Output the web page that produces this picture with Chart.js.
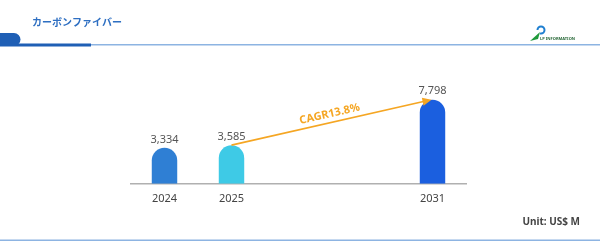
<!DOCTYPE html>
<html>
<head>
<meta charset="utf-8">
<script src="https://cdn.jsdelivr.net/npm/chart.js@4"></script>
<style>
  html, body { margin: 0; padding: 0; background: #fff; }
  #wrap { position: relative; width: 600px; height: 248px; }
</style>
</head>
<body>
<div id="wrap"><canvas id="myChart" width="600" height="248"></canvas></div>
<script>
// data
const years = ["2024", "2025", "", "", "2031"];
const sales = [3334, 3585, null, null, 7798];
const barColors = ["#2f7fd4", "#3ecae6", "#3ecae6", "#3ecae6", "#1b5fdf"];
const cagrText = "CAGR13.8%";
const titleText = "カーボンファイバー";
const unitText = "Unit: US$ M";

const fontJP = "'Noto Sans CJK JP', 'Noto Sans', sans-serif";
const fontUI = "'Noto Sans', 'Open Sans', sans-serif";

// header, footer, logo and unit text
const pageDeco = {
  id: "pageDeco",
  beforeDraw(chart) {
    const c = chart.ctx;
    c.save();
    c.fillStyle = "#fff";
    c.fillRect(0, 0, chart.width, chart.height);

    // title
    c.fillStyle = "#2e6fc2";
    c.font = "bold 10px " + fontJP;
    c.textBaseline = "middle";
    c.fillText(titleText, 32, 22);

    // header lines
    c.fillStyle = "#8db4e2";
    c.fillRect(0, 44, 600, 1.5);
    c.fillStyle = "#1f5fb5";
    c.fillRect(0, 43.5, 91, 3);
    c.beginPath();
    c.moveTo(0, 33);
    c.lineTo(14, 33);
    c.arc(14, 39.5, 6.5, -Math.PI / 2, Math.PI / 2);
    c.lineTo(0, 46);
    c.closePath();
    c.fill();

    // footer line
    c.fillStyle = "#8db4e2";
    c.fillRect(0, 239.5, 600, 1.5);

    // logo
    c.strokeStyle = "#1f7fd0";
    c.lineWidth = 2;
    c.beginPath();
    c.arc(541, 30, 3.5, Math.PI, Math.PI * 2.6);
    c.stroke();
    c.fillStyle = "#1f9a3a";
    c.beginPath();
    c.moveTo(530, 41);
    c.lineTo(540, 32);
    c.lineTo(538, 39);
    c.closePath();
    c.fill();
    c.fillStyle = "#2a6a3a";
    c.font = "bold 4px " + fontUI;
    c.fillText("LP INFORMATION", 540, 38.5);

    // unit
    c.fillStyle = "#444";
    c.font = "bold 10px " + fontUI;
    c.textAlign = "right";
    c.fillText(unitText, 580, 222);
    c.restore();
  }
};

// value labels above bars and the CAGR arrow
const barExtras = {
  id: "barExtras",
  afterDatasetsDraw(chart) {
    const c = chart.ctx;
    const meta = chart.getDatasetMeta(0);
    c.save();
    c.fillStyle = "#555";
    c.font = "11px " + fontUI;
    c.textAlign = "center";
    c.textBaseline = "bottom";
    meta.data.forEach((bar, i) => {
      if (sales[i] == null) return;
      c.fillText(sales[i].toLocaleString("en-US"), bar.x, bar.y - 3);
    });

    const a = meta.data[1], b = meta.data[4];
    const x1 = a.x, y1 = a.y, x2 = b.x - 1, y2 = b.y;
    const ang = Math.atan2(y2 - y1, x2 - x1);
    c.strokeStyle = "#f5a623";
    c.fillStyle = "#f5a623";
    c.lineWidth = 1.6;
    c.beginPath();
    c.moveTo(x1, y1);
    c.lineTo(x2 - 6 * Math.cos(ang), y2 - 6 * Math.sin(ang));
    c.stroke();
    c.beginPath();
    c.moveTo(x2, y2);
    c.lineTo(x2 - 9 * Math.cos(ang) + 4 * Math.sin(ang), y2 - 9 * Math.sin(ang) - 4 * Math.cos(ang));
    c.lineTo(x2 - 9 * Math.cos(ang) - 4 * Math.sin(ang), y2 - 9 * Math.sin(ang) + 4 * Math.cos(ang));
    c.closePath();
    c.fill();

    c.translate((x1 + x2) / 2, (y1 + y2) / 2);
    c.rotate(ang);
    c.font = "bold 11px " + fontUI;
    c.textBaseline = "bottom";
    c.fillText(cagrText, 0, -3);
    c.restore();
  }
};

const ctx = document.getElementById("myChart");
new Chart(ctx, {
  type: "bar",
  data: {
    labels: years,
    datasets: [
      {
        data: sales,
        backgroundColor: barColors,
        borderRadius: { topLeft: 13, topRight: 13 },
        borderSkipped: "bottom",
        barPercentage: 0.38,
        categoryPercentage: 1,
      },
    ],
  },
  options: {
    responsive: false,
    animation: false,
    layout: { padding: { left: 131, right: 134, top: 76, bottom: 43 } },
    plugins: { legend: { display: false }, tooltip: { enabled: false } },
    scales: {
      x: {
        grid: { display: false },
        border: { color: "#b0b0b0", width: 1.5 },
        ticks: { color: "#444", font: { size: 11, family: fontUI }, padding: 0 },
      },
      y: {
        display: false,
        beginAtZero: true,
        min: 0,
        max: 10000,
      },
    },
  },
  plugins: [pageDeco, barExtras],
});
</script>
</body>
</html>
